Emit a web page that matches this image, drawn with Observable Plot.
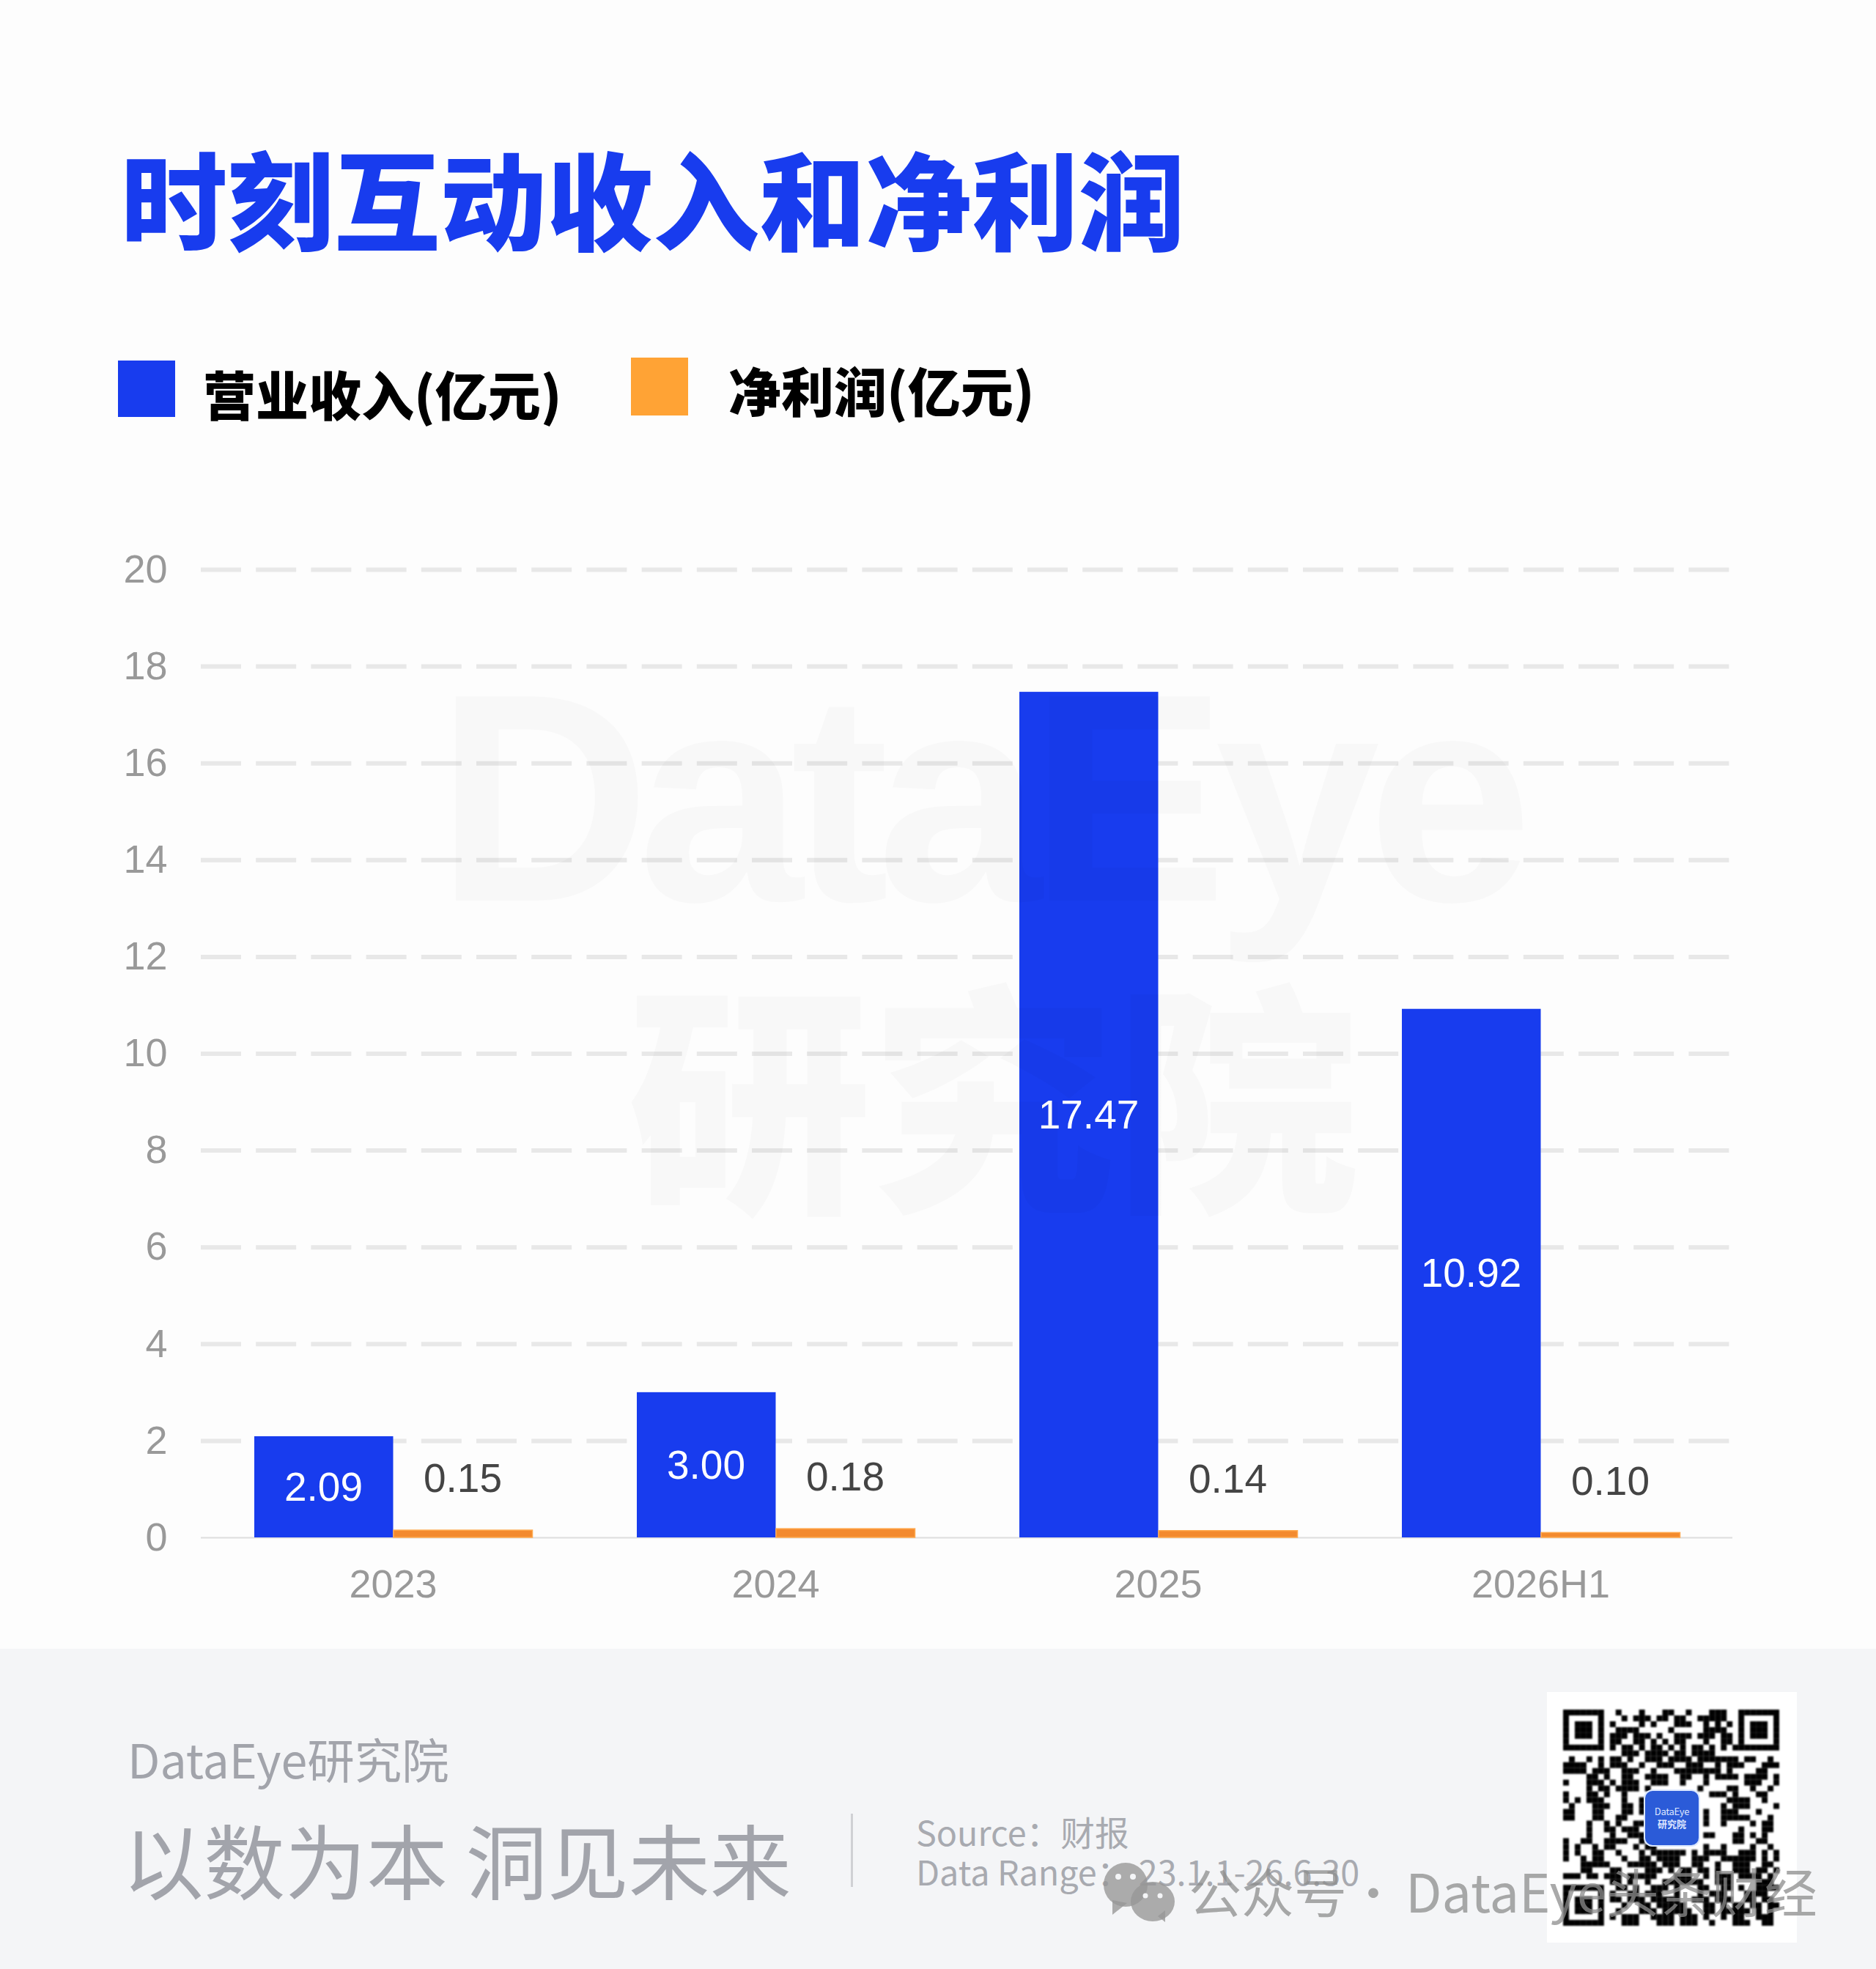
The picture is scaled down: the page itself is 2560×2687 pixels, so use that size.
<!DOCTYPE html>
<html lang="zh-CN"><head><meta charset="utf-8">
<script src="https://cdn.jsdelivr.net/npm/d3@7"></script>
<script src="https://cdn.jsdelivr.net/npm/@observablehq/plot@0.6"></script>
<style>
html,body{margin:0;padding:0;background:#fdfdfd}
#page{position:relative;width:2560px;height:2687px;overflow:hidden;background:#fdfdfd;font-family:"Noto Sans CJK SC","Noto Sans",sans-serif}
.a{position:absolute;white-space:nowrap;line-height:1}
#chart svg,#qr svg{display:block}
</style></head><body>
<div id="page">
  <div class="a" id="footer" style="left:0;top:2250px;width:2560px;height:437px;background:#f4f5f7"></div>
  <div class="a" id="chart" style="left:0;top:700px"></div>
  <div class="a" style="left:595px;top:886px;font:700 405px/1 'Liberation Sans',sans-serif;letter-spacing:-17px;color:rgba(0,0,0,.02);pointer-events:none">DataEye</div>
  <div class="a" style="left:856px;top:1318px;font:900 333px/1 'Noto Sans CJK SC';color:rgba(0,0,0,.02)">研究院</div>

  <div class="a" style="left:165px;top:196px;font-size:145.2px;font-weight:900;color:#183cee">时刻互动收入和净利润</div>

  <div class="a" style="left:161px;top:492px;width:78px;height:77px;background:#183cee"></div>
  <div class="a" style="left:277px;top:500px;font-size:72px;font-weight:900;color:#000">营业收入(亿元)</div>
  <div class="a" style="left:861px;top:488px;width:78px;height:79px;background:#ffa335"></div>
  <div class="a" style="left:994px;top:495px;font-size:72px;font-weight:900;color:#000">净利润(亿元)</div>

  <div class="a" style="left:174px;top:2367px;font-size:64.5px;font-weight:400;color:#a2a4ab">DataEye研究院</div>
  <div class="a" style="left:167px;top:2480px;font-size:111px;font-weight:400;color:#a2a4ab">以数为本 洞见未来</div>
  <div class="a" style="left:1161px;top:2475px;width:3px;height:100px;background:#cfd0d4"></div>
  <div class="a" style="left:1250px;top:2476px;font-size:46.7px;font-weight:400;color:#a8aab0">Source：财报</div>
  <div class="a" style="left:1250px;top:2530px;font-size:46.7px;font-weight:400;color:#a8aab0">Data Range： 23.1.1-26.6.30</div>

  <div class="a" style="left:2111px;top:2309px;width:341px;height:342px;background:#fff"></div>
  <div class="a" id="qr" style="left:2133px;top:2333px;filter:blur(1.2px)"></div>
  <div class="a" style="left:2245px;top:2444px;width:73px;height:74px;border-radius:10px;background:#2b5bd8;box-shadow:0 0 0 2px #dbe8ff;color:#dfe8ff;text-align:center;font-size:13px;line-height:17px;white-space:normal;padding-top:19px;box-sizing:border-box"><span style="letter-spacing:-.3px">DataEye</span><br><b>研究院</b></div>

  <svg class="a" style="left:1500px;top:2535px" width="110" height="95" viewBox="0 0 110 95">
    <g fill="rgba(150,150,150,.78)">
      <ellipse cx="36" cy="37" rx="30" ry="30"/><path d="M18 58 L18 78 L38 62Z"/>
      <ellipse cx="73" cy="60" rx="30" ry="27"/><path d="M80 80 L90 88 L90 72Z"/>
    </g>
    <g fill="#f4f5f7"><circle cx="26" cy="26" r="4"/><circle cx="46" cy="26" r="4"/><circle cx="63" cy="52" r="3.5"/><circle cx="83" cy="52" r="3.5"/></g>
  </svg>
  <div class="a" style="left:1622px;top:2543px;font-size:72px;font-weight:400;color:rgba(140,140,140,.75)">公众号</div>
  <div class="a" style="left:1838px;top:2543px;font-size:72px;font-weight:300;color:rgba(140,140,140,.75)">·</div>
  <div class="a" style="left:1918px;top:2543px;font-size:72px;font-weight:400;color:rgba(140,140,140,.75)">DataEye头条财经</div>
</div>
<script>
const years = ["2023", "2024", "2025", "2026H1"];
const revenue = [2.09, 3.00, 17.47, 10.92];
const profit = [0.15, 0.18, 0.14, 0.10];
const yTicks = [0, 2, 4, 6, 8, 10, 12, 14, 16, 18, 20];
const qrRows = [
"1111111001000100011"+"001000111001111111",
"1000001000101110110"+"110011111001000001",
"1011101010000101000"+"111001010101011101",
"1011101001111000001"+"000001111001011101",
"1011101011101110100"+"111011101101011101",
"1000001011001101010"+"110001001101000001",
"1111111010110101101"+"010110101011111111",
"0000000000111011110"+"110111100000000000",
"0100101011010011101"+"111011111110110010",
"1111001011100100111"+"001110010111000111",
"1111011100111001000"+"111111110100001100",
"0000110100110011110"+"011001011110111101",
"1000111010111001110"+"010001000000111001",
"0000101101111010000"+"000010000110010010",
"1000110100100000000"+"000000111010001100",
"1010111000100100000"+"000000000111100100",
"0100011100110100000"+"000000001011100001",
"1100011000110110000"+"000001001110001000",
"1100011001100000000"+"000001001111100010",
"0000100101001100000"+"000001001000010110",
"0000100110111000000"+"000000000001000110",
"0000100010011100000"+"000001100011010100",
"1001100111100100000"+"000000000011001100",
"1010010110001011000"+"000001001000010010",
"1010011001000101111"+"110101111001110101",
"1001011000100110111"+"100111001111110101",
"0001111100011111011"+"100110010011100110",
"0001100011000011101"+"011011010011101101",
"1110110111011111000"+"111001011101111010",
"0000000011010010011"+"111110011100001110",
"1111111001101001110"+"100011001101001111",
"1000001010011011100"+"100010111000111100",
"1011101011011101111"+"100111011100110110",
"1011101000100110111"+"110001101011011011",
"1011101001000111011"+"111001101111101010",
"1000001010111001111"+"011101001011001110",
"1111111000111000111"+"011100100011100110"
];

const table = years.map((year, i) => ({year, revenue: revenue[i], profit: profit[i]}));
const fmt = d3.format(".2f");
const tickColor = "#999999";

document.getElementById("chart").append(Plot.plot({
  width: 2560, height: 1560,
  marginLeft: 274, marginRight: 196, marginTop: 77, marginBottom: 162,
  style: {background: "transparent", fontFamily: "'Liberation Sans', Arial, sans-serif", fontSize: "54px", overflow: "visible"},
  x: {domain: years, padding: 0, label: null},
  y: {domain: [0, 20], label: null},
  marks: [
    Plot.ruleY(yTicks.filter(d => d > 0), {stroke: "#e8e8e8", strokeWidth: 6, strokeDasharray: "55 20.2"}),
    Plot.ruleY([0], {stroke: "#dddddd", strokeWidth: 2}),
    Plot.barY(table, {x: "year", y: "revenue", fill: "#183cee", insetLeft: 72, insetRight: 260.5}),
    Plot.barY(table, {x: "year", y: "profit", fill: "#f38a2e", stroke: "#ffa94d", strokeWidth: 1.5, insetLeft: 262, insetRight: 70.5}),
    Plot.text(table, {x: "year", y: d => d.revenue / 2, text: d => fmt(d.revenue), fill: "#ffffff", fontSize: 55, dx: -95, dy: 1, lineAnchor: "middle"}),
    Plot.text(table, {x: "year", y: "profit", text: d => fmt(d.profit), fill: "#444444", fontSize: 55, dx: 95, dy: -70, lineAnchor: "middle"}),
    Plot.axisY({ticks: yTicks, tickSize: 0, tickPadding: 46, fill: tickColor, fontSize: 54, label: null, tickFormat: d => String(d)}),
    Plot.axisX({tickSize: 0, tickPadding: 43, fill: tickColor, fontSize: 54, label: null})
  ]
}));

const qrCells = [];
qrRows.forEach((row, r) => [...row].forEach((v, c) => { if (v === "1") qrCells.push({r, c}); }));
const qrIdx = d3.range(qrRows.length);
document.getElementById("qr").append(Plot.plot({
  width: 295, height: 295, margin: 0,
  style: {background: "transparent"},
  x: {domain: qrIdx, padding: 0, axis: null},
  y: {domain: qrIdx, padding: 0, axis: null},
  marks: [Plot.cell(qrCells, {x: "c", y: "r", fill: "#000"})]
}));
</script>
</body></html>
